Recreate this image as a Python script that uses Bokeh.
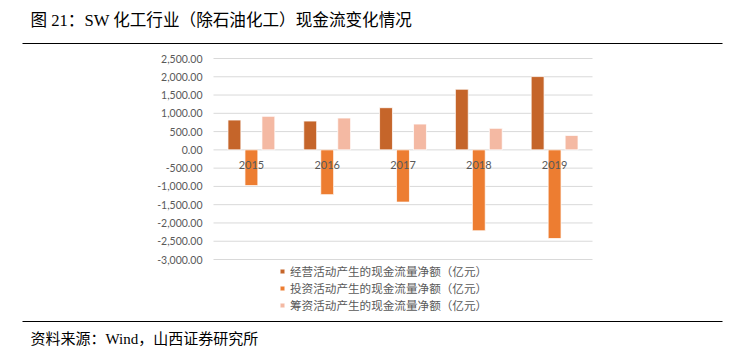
from bokeh.plotting import figure
from bokeh.models import (ColumnDataSource, Range1d, Legend, LegendItem)
from bokeh.transform import dodge
from bokeh.core.properties import value
from bokeh.embed import file_html
from bokeh.resources import INLINE

years = ["2015", "2016", "2017", "2018", "2019"]
operating = [816, 788, 1154, 1659, 2005]
investing = [-978, -1225, -1429, -2214, -2426]
financing = [917, 871, 706, 588, 395]
series_names = ["经营活动产生的现金流量净额（亿元）",
                "投资活动产生的现金流量净额（亿元）",
                "筹资活动产生的现金流量净额（亿元）"]
y_ticks = [-3000, -2500, -2000, -1500, -1000, -500, 0, 500, 1000, 1500, 2000, 2500]
y_tick_labels = [f"{t:,.2f}" for t in y_ticks]
title_text = "图 21：SW 化工行业（除石油化工）现金流变化情况"
source_text = "资料来源：Wind，山西证券研究所"

colors = ["#C5652A", "#ED7D31", "#F4B9A3"]

# ---- layout constants (pixels) ----
W, H = 745, 351
FL, FR, FT, FB = 213, 592, 58, 259          # plot area edges
YMIN, YMAX = y_ticks[0], y_ticks[-1]
ppu = (FB - FT) / (YMAX - YMIN)              # px per value unit
ncat = len(years)
ppc = (FR - FL) / ncat                       # px per category

# ranges chosen so that the chart area maps to the plot-area pixels
x_range = Range1d(-FL / ppc, ncat + (W - FR) / ppc)
y_range = Range1d(YMIN - (H - FB) / ppu, YMAX + FT / ppu)

p = figure(width=W, height=H, output_backend="svg", toolbar_location=None,
           x_range=x_range, y_range=y_range,
           min_border=0, min_border_left=0, min_border_right=0,
           min_border_top=0, min_border_bottom=0,
           background_fill_color="white", border_fill_color="white")
p.axis.visible = False
p.grid.visible = False
p.outline_line_color = None
p.extra_x_ranges = {"px": Range1d(0, W)}
p.extra_y_ranges = {"px": Range1d(H, 0)}

# ---- gridlines & y tick labels ----
gsrc = ColumnDataSource(dict(y=y_ticks, lab=y_tick_labels,
                             x0=[0] * len(y_ticks), x1=[ncat] * len(y_ticks)))
p.segment(x0="x0", y0="y", x1="x1", y1="y", source=gsrc,
          line_color="#D9D9D9", line_width=1)
p.text(x="x0", y="y", text="lab", source=gsrc, x_offset=-11,
       text_align="right", text_baseline="middle", text_font=value("Lato"),
       text_font_size="10.5px", text_color="#595959")

# ---- bars ----
cx = [i + 0.5 for i in range(ncat)]
src = ColumnDataSource(dict(year=years, cx=cx, op=operating, inv=investing,
                            fin=financing, zero=[0] * ncat))
bw = 0.17
off = 0.224
r1 = p.vbar(x=dodge("cx", -off), top="op", bottom=0, width=bw, source=src,
            fill_color=colors[0], line_color="white", line_width=0.75)
r2 = p.vbar(x=dodge("cx", 0), top="inv", bottom=0, width=bw, source=src,
            fill_color=colors[1], line_color="white", line_width=0.75)
r3 = p.vbar(x=dodge("cx", off), top="fin", bottom=0, width=bw, source=src,
            fill_color=colors[2], line_color="white", line_width=0.75)

# category labels sit just below the zero line
p.text(x="cx", y="zero", text="year", source=src, text_align="center",
       text_baseline="middle", y_offset=15, text_font=value("Lato"),
       text_font_size="11px", text_color="#595959")

# ---- legend ----
legend = Legend(items=[LegendItem(label=series_names[0], renderers=[r1]),
                       LegendItem(label=series_names[1], renderers=[r2]),
                       LegendItem(label=series_names[2], renderers=[r3])],
                location=(279, H - 313), orientation="vertical",
                glyph_width=6, glyph_height=6, label_standoff=5,
                label_height=16, spacing=1, padding=0, margin=0,
                label_text_font="Noto Sans CJK SC", label_text_font_size="11.6px",
                label_text_color="#595959",
                border_line_color=None, background_fill_alpha=0)
p.add_layout(legend)

# ---- title, rules, source ----
p.text(x=[30], y=[20], text=[title_text], text_baseline="middle",
       x_range_name="px", y_range_name="px",
       text_font=value("Liberation Serif, Noto Sans CJK SC"),
       text_font_size="16.6px", text_color="black")
p.segment(x0=[22, 22], y0=[43, 321], x1=[722, 722], y1=[43, 321],
          x_range_name="px", y_range_name="px", line_color="black", line_width=1.2)
p.text(x=[30], y=[338], text=[source_text], text_baseline="middle",
       x_range_name="px", y_range_name="px",
       text_font=value("Liberation Serif, Noto Sans CJK SC"),
       text_font_size="15px", text_color="black")

open("out.html", "w").write(file_html(p, INLINE))
